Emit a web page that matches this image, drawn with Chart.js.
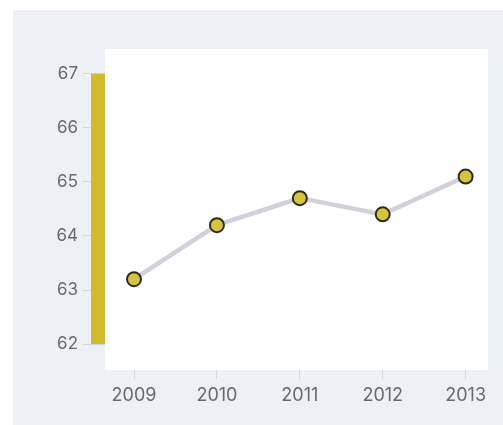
<!DOCTYPE html>
<html>
<head>
<meta charset="utf-8">
<script src="https://cdn.jsdelivr.net/npm/chart.js@4"></script>
<style>
  html, body { margin: 0; padding: 0; background: #ffffff; }
  #card { position: absolute; left: 13px; top: 10px; width: 490px; height: 415px; background: #edf1f5; }
</style>
</head>
<body>
<div id="card"><canvas id="chart"></canvas></div>
<script>
// data
const years = [2009, 2010, 2011, 2012, 2013];
const values = [63.2, 64.2, 64.7, 64.4, 65.1];
const yTicks = [62, 63, 64, 65, 66, 67];

// white plot panel + yellow range bar
const panelPlugin = {
  id: 'panel',
  beforeDraw(chart) {
    const { ctx, chartArea } = chart;
    ctx.save();
    ctx.fillStyle = '#ffffff';
    ctx.fillRect(chartArea.left, chartArea.top, chartArea.right - chartArea.left, chartArea.bottom - chartArea.top);
    ctx.restore();
  },
  afterDraw(chart) {
    const { ctx, chartArea, scales } = chart;
    const top = scales.y.getPixelForValue(yTicks[yTicks.length - 1]);
    const bottom = scales.y.getPixelForValue(yTicks[0]);
    ctx.save();
    ctx.fillStyle = '#d3b92c';
    ctx.fillRect(chartArea.left - 14, top, 14, bottom - top);
    ctx.restore();
  }
};

new Chart(document.getElementById('chart'), {
  type: 'line',
  data: {
    datasets: [{
      data: years.map((y, i) => ({ x: y, y: values[i] })),
      borderColor: '#d3d0db',
      borderWidth: 4.5,
      pointBackgroundColor: '#d6c43e',
      pointBorderColor: '#2e2a1c',
      pointBorderWidth: 2,
      pointRadius: 7,
      tension: 0
    }]
  },
  options: {
    responsive: true,
    maintainAspectRatio: false,
    animation: false,
    layout: { padding: { top: 39, right: 15, left: 0, bottom: 0 } },
    plugins: { legend: { display: false }, tooltip: { enabled: false } },
    scales: {
      x: {
        type: 'linear',
        min: 2008.65,
        max: 2013.27,
        afterBuildTicks: s => { s.ticks = years.map(v => ({ value: v })); },
        afterFit: s => { s.height = 55; },
        border: { display: false },
        grid: { drawOnChartArea: false, drawTicks: true, tickLength: 9, color: '#d4d8dd' },
        ticks: {
          callback: v => String(v),
          color: '#66696f',
          padding: 6,
          font: { family: 'Inter', size: 18 }
        }
      },
      y: {
        min: 61.52,
        max: 67.46,
        afterBuildTicks: s => { s.ticks = yTicks.map(v => ({ value: v })); },
        afterFit: s => { s.width = 92; },
        border: { display: false },
        grid: { drawOnChartArea: false, drawTicks: true, tickLength: 22, color: '#d4d8dd' },
        ticks: {
          callback: v => String(v),
          color: '#66696f',
          padding: 5,
          font: { family: 'Inter', size: 17 }
        }
      }
    }
  },
  plugins: [panelPlugin]
});
</script>
</body>
</html>
